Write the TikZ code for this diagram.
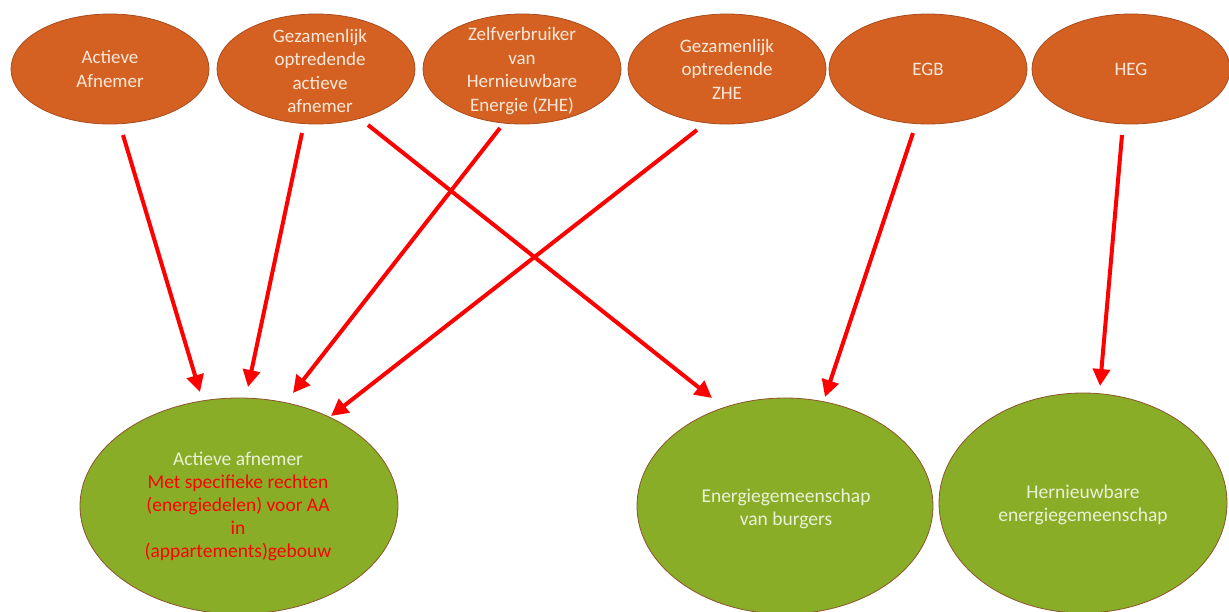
\documentclass[tikz,border=0pt]{standalone}
\usepackage{fontspec}
\setmainfont{Carlito}
\usetikzlibrary{shapes.geometric,arrows.meta}
\definecolor{orfill}{RGB}{212,97,34}
\definecolor{ordraw}{RGB}{170,75,30}
\definecolor{grfill}{RGB}{138,173,40}
\definecolor{grdraw}{RGB}{140,85,45}
\definecolor{topfg}{RGB}{250,232,218}
\definecolor{botfg}{RGB}{232,242,214}
\definecolor{arrred}{RGB}{255,0,0}
\tikzset{
  topell/.style={ellipse, fill=orfill, draw=ordraw, line width=0.8pt, minimum width=198pt, minimum height=110pt, inner sep=0pt},
  botell/.style={ellipse, fill=grfill, draw=grdraw, line width=0.8pt, inner sep=0pt},
  toptext/.style={text=topfg, align=center, font=\fontsize{19}{23.5}\selectfont, inner sep=0pt},
  bottext/.style={text=botfg, align=center, font=\fontsize{19.5}{23}\selectfont, inner sep=0pt},
  redarrow/.style={draw=arrred, line width=4pt, -{Triangle[length=17pt,width=17pt]}}
}
\begin{document}
\begin{tikzpicture}[x=1pt,y=-1pt]
\useasboundingbox (0,0) rectangle (1229,611);
% top row
\node[topell] (t1) at (110,69) {};
\node[toptext] (t1t) at (t1) {Actieve\\Afnemer};
\node[topell] (t2) at (316,69) {};
\node[toptext] (t2t) at (320,71) {Gezamenlijk\\optredende\\actieve\\afnemer};
\node[topell] (t3) at (522,69) {};
\node[toptext] (t3t) at (522,71) {Zelfverbruiker\\van\\Hernieuwbare\\Energie (ZHE)};
\node[topell] (t4) at (727,69) {};
\node[toptext] (t4t) at (t4) {Gezamenlijk\\optredende\\ZHE};
\node[topell] (t5) at (928,69) {};
\node[toptext] (t5t) at (t5) {EGB};
\node[topell] (t6) at (1131,69) {};
\node[toptext] (t6t) at (t6) {HEG};
% bottom row
\node[botell, minimum width=318pt, minimum height=216pt] (b1) at (239,506) {};
\node[bottext] (b1t) at (238,506) {Actieve afnemer\\\textcolor{arrred}{Met specifieke rechten}\\\textcolor{arrred}{(energiedelen) voor AA}\\\textcolor{arrred}{in}\\\textcolor{arrred}{(appartements)gebouw}};
\node[botell, minimum width=296pt, minimum height=216pt] (b2) at (785,506) {};
\node[bottext] (b2t) at (786,509) {Energiegemeenschap\\van burgers};
\node[botell, minimum width=288pt, minimum height=220pt] (b3) at (1083,503) {};
\node[bottext] (b3t) at (1083,505) {Hernieuwbare\\energiegemeenschap};
% arrow end points
\coordinate (s1) at (123,135);  \coordinate (e1) at (200,392);
\coordinate (s2) at (302,133);  \coordinate (e2) at (248,387);
\coordinate (s3) at (500,128);  \coordinate (e3) at (293,393);
\coordinate (s4) at (697,130);  \coordinate (e4) at (331,416);
\coordinate (s5) at (368,125);  \coordinate (e5) at (712,398);
\coordinate (s6) at (913,133);  \coordinate (e6) at (825,397);
\coordinate (s7) at (1122,135); \coordinate (e7) at (1100,386);
\draw[redarrow] (s1) -- (e1);
\draw[redarrow] (s2) -- (e2);
\draw[redarrow] (s3) -- (e3);
\draw[redarrow] (s4) -- (e4);
\draw[redarrow] (s5) -- (e5);
\draw[redarrow] (s6) -- (e6);
\draw[redarrow] (s7) -- (e7);
\end{tikzpicture}
\end{document}
